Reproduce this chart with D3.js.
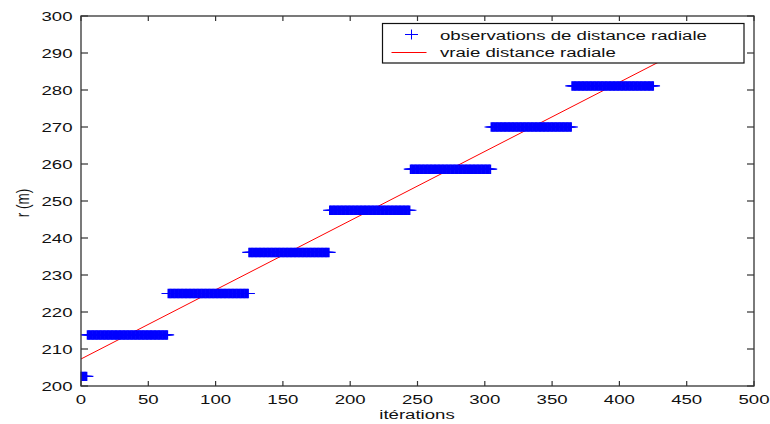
<!DOCTYPE html>
<html>
<head>
<meta charset="utf-8">
<script src="https://cdn.jsdelivr.net/npm/d3@7"></script>
<style>
  html, body { margin: 0; padding: 0; background: #fff; }
  svg { display: block; }
  text { font-family: "Liberation Sans", Arial, sans-serif; fill: #111; }
</style>
</head>
<body>
<svg id="chart" width="770" height="424"></svg>
<script>
// ---- data ----
// observations are held constant over blocks of iterations
const obsStart = [0, 5, 65, 125, 185, 245, 305, 365];
const obsEnd   = [4, 64, 124, 184, 244, 304, 364, 425];
const obsValue = [202.6, 213.8, 225.0, 236.1, 247.5, 258.6, 270.0, 281.1];
// true radial distance (straight line)
const trueIter  = [0, 430];
const trueValue = [207.3, 287.7];
const xTicks = [0, 50, 100, 150, 200, 250, 300, 350, 400, 450, 500];
const yTicks = [200, 210, 220, 230, 240, 250, 260, 270, 280, 290, 300];
const legendLabels = ["observations de distance radiale", "vraie distance radiale"];
const xLabel = "itérations";
const yLabel = "r (m)";

// ---- layout ----
const SX = 1.38; // horizontal stretch of the reference picture
const L = 81, R = 754, T = 16, B = 386;
const svg = d3.select("#chart");
const x = d3.scaleLinear().domain([0, 500]).range([L, R]);
const y = d3.scaleLinear().domain([200, 300]).range([B, T]);

const plot = svg.append("g");
svg.append("clipPath").attr("id", "clip")
  .append("rect").attr("x", L).attr("y", T).attr("width", R - L).attr("height", B - T);

// true distance line
plot.append("path")
  .datum(trueIter.map((t, i) => [t, trueValue[i]]))
  .attr("clip-path", "url(#clip)")
  .attr("fill", "none")
  .attr("stroke", "#ff0000")
  .attr("stroke-width", 1)
  .attr("d", d3.line().x(d => x(d[0])).y(d => y(d[1])));

// observations: '+' marker at every iteration of each block
const obs = [];
obsStart.forEach((s, k) => {
  d3.range(s, obsEnd[k] + 1).forEach(it => obs.push([it, obsValue[k]]));
});
const plusFill = "M-7,-0.6H7V0.6H-7Z M-1,-4.7H1V4.7H-1Z";
plot.append("g").selectAll("path").data(obs).join("path")
  .attr("transform", d => `translate(${x(d[0])},${y(d[1])})`)
  .attr("d", plusFill)
  .attr("fill", "#0000ff");

// white cover left of axis (markers at iteration 0 poke outside)
svg.append("rect").attr("x", 0).attr("y", 0).attr("width", L - 0.5).attr("height", 424).attr("fill", "#fff");

// axes box
const axCol = "#333";
svg.append("rect").attr("x", L).attr("y", T).attr("width", R - L).attr("height", B - T)
  .attr("fill", "none").attr("stroke", axCol).attr("stroke-width", 1.3);

// ticks (inward, all four sides)
const tk = svg.append("g").attr("stroke", axCol).attr("stroke-width", 1.2);
xTicks.forEach(v => {
  tk.append("line").attr("x1", x(v)).attr("x2", x(v)).attr("y1", B).attr("y2", B - 5);
  tk.append("line").attr("x1", x(v)).attr("x2", x(v)).attr("y1", T).attr("y2", T + 5);
});
yTicks.forEach(v => {
  tk.append("line").attr("x1", L).attr("x2", L + 7).attr("y1", y(v)).attr("y2", y(v));
  tk.append("line").attr("x1", R).attr("x2", R - 7).attr("y1", y(v)).attr("y2", y(v));
});

// tick labels
function stext(g, tx, ty, str, anchor, size) {
  return g.append("text")
    .attr("transform", `translate(${tx},${ty}) scale(${SX},1)`)
    .attr("text-anchor", anchor)
    .attr("font-size", size)
    .text(str);
}
const lab = svg.append("g");
xTicks.forEach(v => stext(lab, x(v), 403.5, v, "middle", 13.5));
yTicks.forEach(v => stext(lab, 72.5, y(v) + 5, v, "end", 13.5));

// axis titles
stext(lab, 417, 419, xLabel, "middle", 13.5);
lab.append("text")
  .attr("transform", `translate(29,203) scale(${SX},1) rotate(-90)`)
  .attr("text-anchor", "middle")
  .attr("font-size", 13.5)
  .text(yLabel);

// legend
const lg = svg.append("g");
lg.append("rect").attr("x", 382.5).attr("y", 23.5).attr("width", 361.5).attr("height", 39.5)
  .attr("fill", "#fff").attr("stroke", "#111").attr("stroke-width", 1.2);
lg.append("path").attr("transform", "translate(411.5,34.5)").attr("d", "M-6.5,0H6.5M0,-5V5")
  .attr("fill", "none").attr("stroke", "#0000ff").attr("stroke-width", 1);
lg.append("line").attr("x1", 391.5).attr("x2", 426.5).attr("y1", 52.5).attr("y2", 52.5)
  .attr("stroke", "#ff0000").attr("stroke-width", 1);
stext(lg, 440, 39.5, legendLabels[0], "start", 13.5);
stext(lg, 440, 57, legendLabels[1], "start", 13.5);
</script>
</body>
</html>
